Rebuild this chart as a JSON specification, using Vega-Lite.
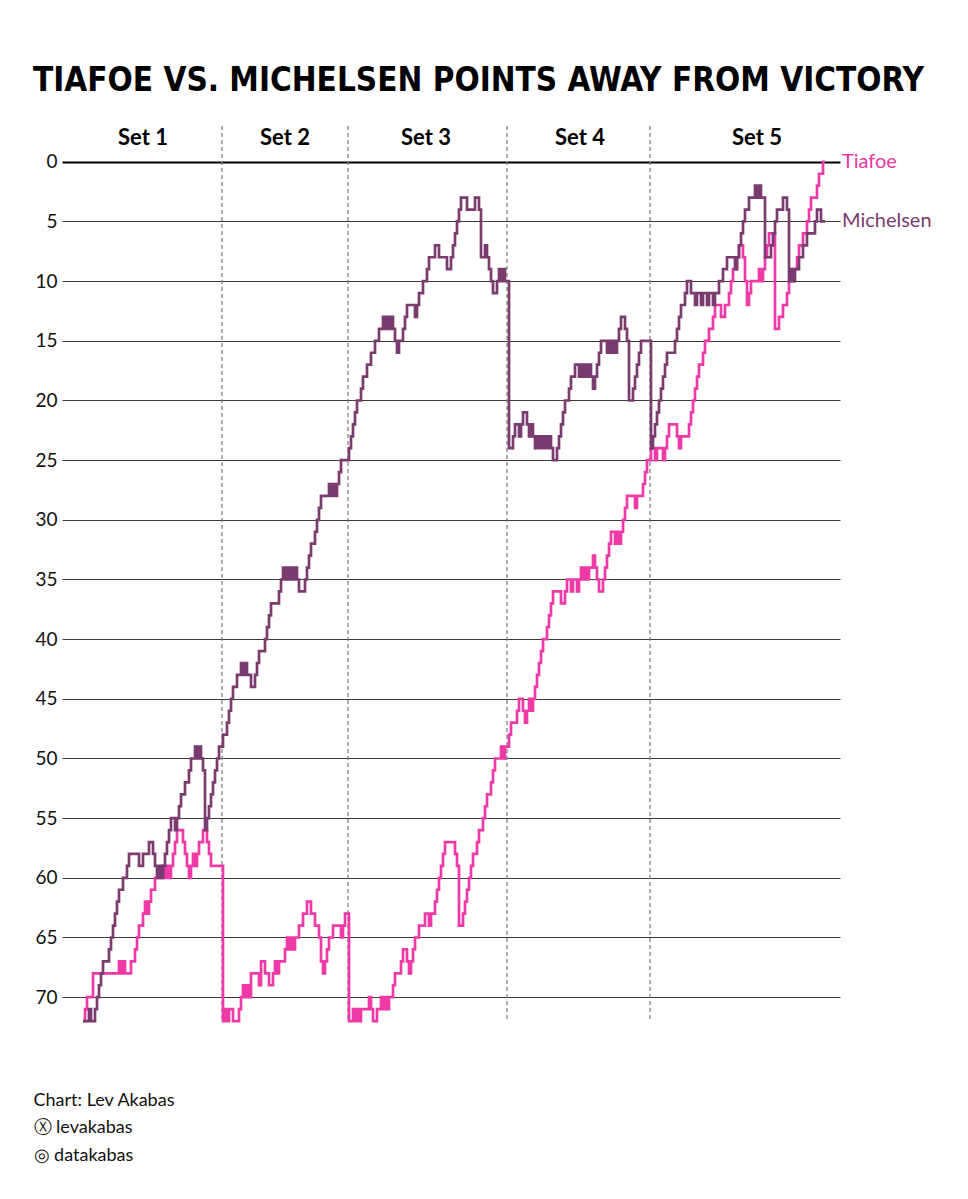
{
  "$schema": "https://vega.github.io/schema/vega-lite/v6.json",
  "width": 778,
  "height": 901,
  "autosize": {"type": "none"},
  "padding": {"left": 62, "top": 126, "right": 128, "bottom": 172},
  "background": "white",
  "config": {"view": {"stroke": null}, "font": "Lato"},
  "title": {
    "text": "TIAFOE VS. MICHELSEN POINTS AWAY FROM VICTORY",
    "font": "DejaVu Sans Condensed",
    "fontSize": 33,
    "fontWeight": "bold",
    "color": "black",
    "anchor": "start",
    "frame": "group",
    "baseline": "alphabetic",
    "dx": -29,
    "dy": 35,
    "offset": 36
  },
  "datasets": {
    "sets": [
      {"set": "Set 1", "mid": 30, "end": 69.5},
      {"set": "Set 2", "mid": 101, "end": 132.5},
      {"set": "Set 3", "mid": 171.5, "end": 212},
      {"set": "Set 4", "mid": 248.5, "end": 283.5},
      {"set": "Set 5", "mid": 337, "end": 371}
    ],
    "tiafoe": [
      {"p":0,"v":72},{"p":1,"v":71},{"p":2,"v":70},{"p":5,"v":68},{"p":18,"v":67},{"p":19,"v":68},{"p":20,"v":67},{"p":21,"v":68},{"p":24,"v":67},{"p":26,"v":66},{"p":27,"v":65},{"p":28,"v":64},{"p":30,"v":63},{"p":31,"v":62},{"p":32,"v":63},{"p":33,"v":62},{"p":34,"v":61},{"p":36,"v":60},{"p":40,"v":59},{"p":41,"v":60},{"p":42,"v":59},{"p":43,"v":60},{"p":44,"v":59},{"p":45,"v":58},{"p":46,"v":57},{"p":47,"v":56},{"p":50,"v":57},{"p":51,"v":58},{"p":52,"v":59},{"p":53,"v":60},{"p":54,"v":59},{"p":55,"v":58},{"p":56,"v":59},{"p":57,"v":58},{"p":58,"v":57},{"p":60,"v":56},{"p":62,"v":57},{"p":63,"v":58},{"p":64,"v":59},
      {"p":70,"v":72},{"p":71,"v":71},{"p":72,"v":72},{"p":73,"v":71},{"p":75,"v":72},{"p":78,"v":71},{"p":79,"v":70},{"p":80,"v":69},{"p":81,"v":70},{"p":82,"v":69},{"p":83,"v":70},{"p":84,"v":68},{"p":88,"v":69},{"p":89,"v":67},{"p":91,"v":68},{"p":93,"v":69},{"p":95,"v":68},{"p":96,"v":67},{"p":97,"v":68},{"p":98,"v":67},{"p":101,"v":66},{"p":102,"v":65},{"p":103,"v":66},{"p":104,"v":65},{"p":105,"v":66},{"p":106,"v":65},{"p":108,"v":64},{"p":110,"v":63},{"p":112,"v":62},{"p":114,"v":63},{"p":116,"v":64},{"p":118,"v":65},{"p":119,"v":67},{"p":120,"v":68},{"p":121,"v":67},{"p":122,"v":66},{"p":123,"v":65},{"p":125,"v":64},{"p":129,"v":65},{"p":130,"v":64},{"p":131,"v":63},
      {"p":133,"v":72},{"p":135,"v":71},{"p":136,"v":72},{"p":137,"v":71},{"p":138,"v":72},{"p":139,"v":71},{"p":143,"v":70},{"p":144,"v":71},{"p":145,"v":72},{"p":147,"v":71},{"p":149,"v":70},{"p":150,"v":71},{"p":151,"v":70},{"p":152,"v":71},{"p":153,"v":70},{"p":155,"v":69},{"p":156,"v":68},{"p":159,"v":67},{"p":160,"v":66},{"p":162,"v":67},{"p":163,"v":68},{"p":164,"v":67},{"p":165,"v":66},{"p":166,"v":65},{"p":168,"v":64},{"p":171,"v":63},{"p":173,"v":64},{"p":174,"v":63},{"p":176,"v":62},{"p":177,"v":61},{"p":178,"v":60},{"p":179,"v":59},{"p":180,"v":58},{"p":181,"v":57},{"p":186,"v":58},{"p":187,"v":59},{"p":188,"v":64},{"p":190,"v":63},{"p":191,"v":62},{"p":192,"v":61},{"p":193,"v":60},{"p":194,"v":59},{"p":195,"v":58},{"p":197,"v":57},{"p":198,"v":56},{"p":200,"v":55},{"p":201,"v":54},{"p":202,"v":53},{"p":204,"v":52},{"p":205,"v":51},{"p":206,"v":50},{"p":209,"v":49},{"p":210,"v":50},{"p":211,"v":49},
      {"p":213,"v":48},{"p":214,"v":47},{"p":217,"v":46},{"p":218,"v":45},{"p":220,"v":46},{"p":221,"v":47},{"p":222,"v":46},{"p":223,"v":45},{"p":224,"v":46},{"p":225,"v":45},{"p":226,"v":44},{"p":227,"v":43},{"p":228,"v":42},{"p":229,"v":41},{"p":230,"v":40},{"p":232,"v":39},{"p":233,"v":38},{"p":234,"v":37},{"p":235,"v":36},{"p":239,"v":37},{"p":241,"v":36},{"p":242,"v":35},{"p":244,"v":36},{"p":245,"v":35},{"p":247,"v":36},{"p":248,"v":35},{"p":249,"v":34},{"p":250,"v":35},{"p":251,"v":34},{"p":252,"v":35},{"p":253,"v":34},{"p":255,"v":33},{"p":256,"v":34},{"p":257,"v":35},{"p":258,"v":36},{"p":260,"v":35},{"p":261,"v":34},{"p":262,"v":33},{"p":263,"v":32},{"p":264,"v":31},{"p":266,"v":32},{"p":267,"v":31},{"p":268,"v":32},{"p":269,"v":31},{"p":270,"v":30},{"p":271,"v":29},{"p":272,"v":28},{"p":276,"v":29},{"p":277,"v":28},{"p":280,"v":27},{"p":281,"v":26},{"p":282,"v":25},
      {"p":284,"v":24},{"p":286,"v":25},{"p":287,"v":24},{"p":290,"v":25},{"p":291,"v":24},{"p":292,"v":23},{"p":293,"v":22},{"p":297,"v":23},{"p":298,"v":24},{"p":299,"v":23},{"p":303,"v":22},{"p":304,"v":21},{"p":305,"v":20},{"p":306,"v":19},{"p":307,"v":18},{"p":308,"v":17},{"p":310,"v":16},{"p":311,"v":15},{"p":313,"v":14},{"p":315,"v":13},{"p":316,"v":12},{"p":319,"v":13},{"p":321,"v":12},{"p":323,"v":11},{"p":324,"v":10},{"p":325,"v":9},{"p":327,"v":8},{"p":328,"v":7},{"p":330,"v":8},{"p":331,"v":10},{"p":332,"v":12},{"p":333,"v":11},{"p":334,"v":10},{"p":338,"v":9},{"p":339,"v":10},{"p":340,"v":9},{"p":341,"v":8},{"p":342,"v":7},{"p":343,"v":6},{"p":346,"v":14},{"p":348,"v":13},{"p":350,"v":12},{"p":352,"v":11},{"p":353,"v":10},{"p":355,"v":9},{"p":357,"v":8},{"p":358,"v":7},{"p":360,"v":6},{"p":362,"v":5},{"p":363,"v":4},{"p":364,"v":3},{"p":367,"v":2},{"p":368,"v":1},{"p":370,"v":0},{"p":371,"v":0}
    ],
    "michelsen": [
      {"p":0,"v":72},{"p":3,"v":71},{"p":4,"v":72},{"p":6,"v":71},{"p":7,"v":70},{"p":8,"v":69},{"p":9,"v":68},{"p":10,"v":67},{"p":13,"v":66},{"p":14,"v":65},{"p":15,"v":64},{"p":16,"v":63},{"p":17,"v":62},{"p":18,"v":61},{"p":20,"v":60},{"p":22,"v":59},{"p":23,"v":58},{"p":28,"v":59},{"p":30,"v":58},{"p":33,"v":57},{"p":35,"v":58},{"p":36,"v":59},{"p":37,"v":60},{"p":38,"v":59},{"p":39,"v":60},{"p":40,"v":59},{"p":41,"v":58},{"p":42,"v":57},{"p":43,"v":56},{"p":44,"v":55},{"p":46,"v":56},{"p":47,"v":55},{"p":48,"v":54},{"p":49,"v":53},{"p":51,"v":52},{"p":53,"v":51},{"p":54,"v":50},{"p":56,"v":49},{"p":57,"v":50},{"p":58,"v":49},{"p":59,"v":50},{"p":60,"v":51},{"p":61,"v":56},{"p":62,"v":55},{"p":63,"v":54},{"p":64,"v":53},{"p":65,"v":52},{"p":66,"v":51},{"p":67,"v":50},{"p":68,"v":49},
      {"p":70,"v":48},{"p":72,"v":47},{"p":73,"v":46},{"p":74,"v":45},{"p":75,"v":44},{"p":77,"v":43},{"p":79,"v":42},{"p":80,"v":43},{"p":81,"v":42},{"p":82,"v":43},{"p":84,"v":44},{"p":86,"v":43},{"p":87,"v":42},{"p":88,"v":41},{"p":91,"v":40},{"p":92,"v":39},{"p":93,"v":38},{"p":94,"v":37},{"p":98,"v":36},{"p":99,"v":35},{"p":100,"v":34},{"p":101,"v":35},{"p":102,"v":34},{"p":103,"v":35},{"p":104,"v":34},{"p":105,"v":35},{"p":106,"v":34},{"p":107,"v":35},{"p":108,"v":36},{"p":111,"v":35},{"p":112,"v":34},{"p":113,"v":33},{"p":114,"v":32},{"p":116,"v":31},{"p":117,"v":30},{"p":118,"v":29},{"p":119,"v":28},{"p":123,"v":27},{"p":124,"v":28},{"p":125,"v":27},{"p":126,"v":28},{"p":127,"v":27},{"p":128,"v":26},{"p":129,"v":25},
      {"p":133,"v":24},{"p":134,"v":23},{"p":135,"v":22},{"p":136,"v":21},{"p":137,"v":20},{"p":139,"v":19},{"p":140,"v":18},{"p":142,"v":17},{"p":144,"v":16},{"p":146,"v":15},{"p":148,"v":14},{"p":150,"v":13},{"p":151,"v":14},{"p":152,"v":13},{"p":153,"v":14},{"p":154,"v":13},{"p":155,"v":14},{"p":156,"v":15},{"p":157,"v":16},{"p":158,"v":15},{"p":160,"v":14},{"p":161,"v":13},{"p":162,"v":12},{"p":166,"v":13},{"p":167,"v":12},{"p":168,"v":11},{"p":170,"v":10},{"p":172,"v":9},{"p":173,"v":8},{"p":176,"v":7},{"p":178,"v":8},{"p":182,"v":9},{"p":184,"v":8},{"p":185,"v":7},{"p":186,"v":6},{"p":187,"v":5},{"p":188,"v":4},{"p":189,"v":3},{"p":192,"v":4},{"p":196,"v":3},{"p":198,"v":4},{"p":199,"v":8},{"p":201,"v":7},{"p":202,"v":8},{"p":203,"v":9},{"p":204,"v":10},{"p":205,"v":11},{"p":207,"v":10},{"p":208,"v":9},{"p":209,"v":10},{"p":210,"v":9},{"p":211,"v":10},
      {"p":213,"v":24},{"p":215,"v":23},{"p":216,"v":22},{"p":218,"v":23},{"p":219,"v":22},{"p":220,"v":21},{"p":222,"v":22},{"p":223,"v":23},{"p":224,"v":22},{"p":225,"v":23},{"p":226,"v":24},{"p":227,"v":23},{"p":228,"v":24},{"p":229,"v":23},{"p":230,"v":24},{"p":231,"v":23},{"p":232,"v":24},{"p":233,"v":23},{"p":234,"v":24},{"p":235,"v":25},{"p":237,"v":24},{"p":238,"v":23},{"p":239,"v":22},{"p":240,"v":21},{"p":241,"v":20},{"p":243,"v":19},{"p":244,"v":18},{"p":246,"v":17},{"p":248,"v":18},{"p":249,"v":17},{"p":250,"v":18},{"p":251,"v":17},{"p":252,"v":18},{"p":253,"v":17},{"p":254,"v":18},{"p":255,"v":19},{"p":256,"v":18},{"p":257,"v":17},{"p":258,"v":16},{"p":259,"v":15},{"p":262,"v":16},{"p":263,"v":15},{"p":264,"v":16},{"p":265,"v":15},{"p":266,"v":16},{"p":267,"v":15},{"p":268,"v":14},{"p":269,"v":13},{"p":271,"v":14},{"p":272,"v":15},{"p":273,"v":20},{"p":275,"v":19},{"p":276,"v":18},{"p":277,"v":17},{"p":278,"v":16},{"p":279,"v":15},
      {"p":284,"v":24},{"p":285,"v":23},{"p":286,"v":22},{"p":287,"v":21},{"p":288,"v":20},{"p":289,"v":19},{"p":290,"v":18},{"p":291,"v":17},{"p":292,"v":16},{"p":296,"v":15},{"p":297,"v":14},{"p":298,"v":13},{"p":299,"v":12},{"p":301,"v":11},{"p":302,"v":10},{"p":304,"v":11},{"p":306,"v":12},{"p":307,"v":11},{"p":309,"v":12},{"p":310,"v":11},{"p":312,"v":12},{"p":313,"v":11},{"p":315,"v":12},{"p":316,"v":11},{"p":318,"v":10},{"p":320,"v":9},{"p":322,"v":8},{"p":326,"v":9},{"p":327,"v":8},{"p":328,"v":7},{"p":329,"v":6},{"p":330,"v":5},{"p":331,"v":4},{"p":333,"v":3},{"p":336,"v":2},{"p":337,"v":3},{"p":338,"v":2},{"p":339,"v":3},{"p":341,"v":8},{"p":344,"v":7},{"p":345,"v":6},{"p":346,"v":5},{"p":347,"v":4},{"p":350,"v":3},{"p":352,"v":4},{"p":353,"v":10},{"p":354,"v":9},{"p":355,"v":10},{"p":356,"v":9},{"p":358,"v":8},{"p":360,"v":7},{"p":362,"v":6},{"p":366,"v":5},{"p":367,"v":4},{"p":369,"v":5},{"p":371,"v":5}
    ]
  },
  "layer": [
    {
      "data": {"name": "sets"},
      "transform": [{"filter": "datum.set !== 'Set 5'"}],
      "mark": {"type": "rule", "color": "#808080", "strokeWidth": 1.3, "strokeDash": [4, 3]},
      "encoding": {
        "x": {
          "field": "end", "type": "quantitative",
          "scale": {"domain": [-10.5, 378.5], "nice": false, "zero": false},
          "axis": {
            "labels": false, "ticks": false, "domain": false, "grid": false,
            "title": ["Chart: Lev Akabas", "Ⓧ levakabas", "◎ datakabas"],
            "titleAnchor": "start", "titleAlign": "left", "titleBaseline": "top",
            "titleX": -29, "titleY": 64,
            "titleFont": "Lato", "titleFontSize": 18, "titleFontWeight": "normal",
            "titleLineHeight": 27.5, "titleColor": "#111"
          }
        },
        "y": {
          "datum": -3, "type": "quantitative",
          "scale": {"domain": [-3, 72.5], "reverse": true, "nice": false, "zero": false},
          "axis": {
            "values": [0, 5, 10, 15, 20, 25, 30, 35, 40, 45, 50, 55, 60, 65, 70],
            "grid": true,
            "gridColor": {"condition": {"test": "datum.value === 0", "value": "#000000"}, "value": "#3a3a3a"},
            "gridWidth": {"condition": {"test": "datum.value === 0", "value": 2}, "value": 1},
            "gridOpacity": 1,
            "domain": false, "ticks": false, "tickSize": 0,
            "labelPadding": 5, "labelFontSize": 19, "labelColor": "#111", "labelFont": "Lato",
            "title": null
          }
        },
        "y2": {"datum": 72}
      }
    },
    {
      "data": {"name": "sets"},
      "mark": {"type": "text", "fontSize": 22, "fontWeight": "bold", "color": "black", "baseline": "middle", "align": "center"},
      "encoding": {
        "x": {"field": "mid", "type": "quantitative"},
        "y": {"datum": -2, "type": "quantitative"},
        "text": {"field": "set"}
      }
    },
    {
      "data": {"name": "tiafoe"},
      "mark": {"type": "line", "interpolate": "step-after", "color": "#ee3aa6", "strokeWidth": 2.7},
      "encoding": {
        "x": {"field": "p", "type": "quantitative"},
        "y": {"field": "v", "type": "quantitative"}
      }
    },
    {
      "data": {"name": "michelsen"},
      "mark": {"type": "line", "interpolate": "step-after", "color": "#7a3b6f", "strokeWidth": 2.7},
      "encoding": {
        "x": {"field": "p", "type": "quantitative"},
        "y": {"field": "v", "type": "quantitative"}
      }
    },
    {
      "data": {"name": "tiafoe"},
      "transform": [{"filter": "datum.p === 371"}],
      "mark": {"type": "text", "align": "left", "baseline": "middle", "dx": 17, "fontSize": 20, "color": "#e8379f"},
      "encoding": {
        "x": {"field": "p", "type": "quantitative"},
        "y": {"field": "v", "type": "quantitative"},
        "text": {"value": "Tiafoe"}
      }
    },
    {
      "data": {"name": "michelsen"},
      "transform": [{"filter": "datum.p === 371"}],
      "mark": {"type": "text", "align": "left", "baseline": "middle", "dx": 17, "fontSize": 20, "color": "#7a3b6f"},
      "encoding": {
        "x": {"field": "p", "type": "quantitative"},
        "y": {"field": "v", "type": "quantitative"},
        "text": {"value": "Michelsen"}
      }
    }
  ]
}
